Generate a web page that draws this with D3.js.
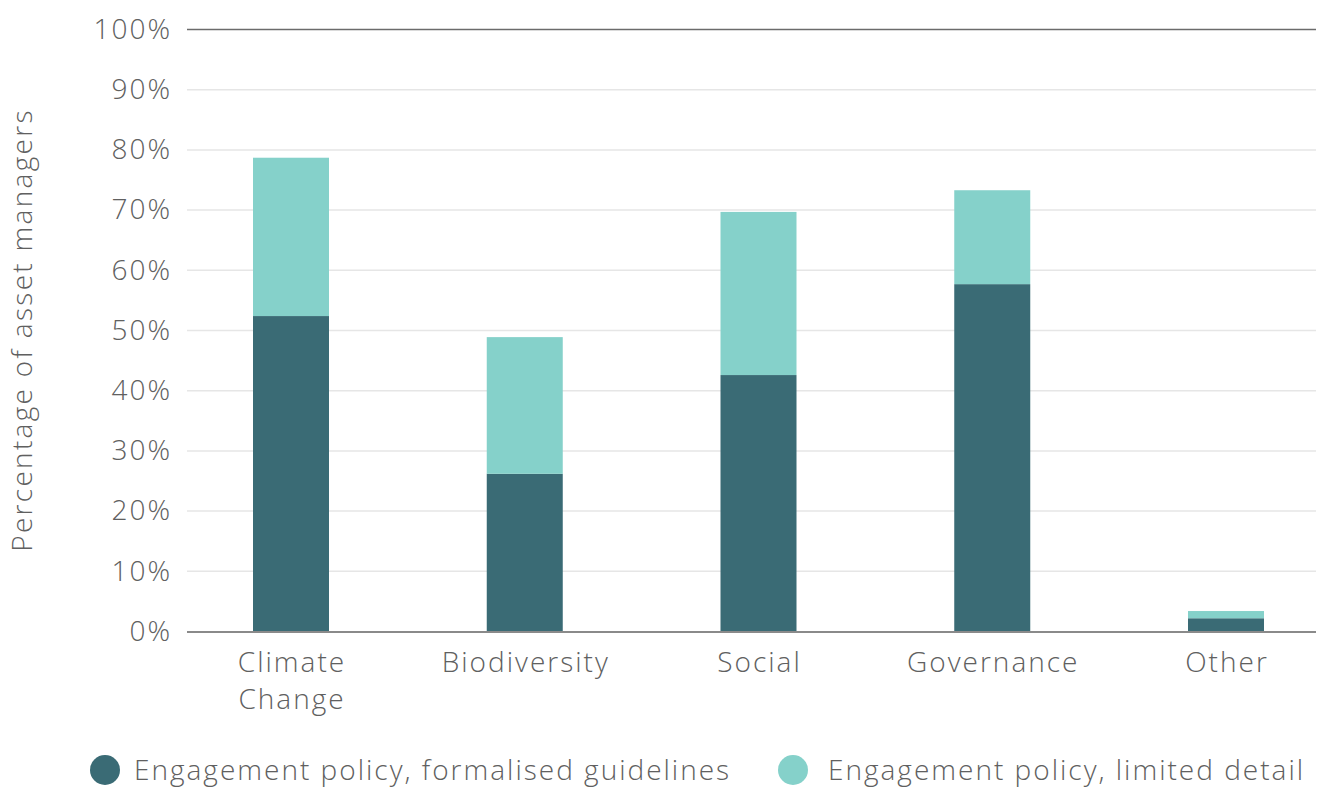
<!DOCTYPE html>
<html><head><meta charset="utf-8">
<script src="https://cdn.jsdelivr.net/npm/d3@7"></script>
<style>
html,body{margin:0;padding:0;background:#fff;}
text{font-family:"Open Sans",Roboto,sans-serif;font-weight:300;fill:#606060;}
</style></head>
<body><svg id="c" width="1318" height="787"></svg>
<script>
(function(){
const categories = ["Climate\nChange","Biodiversity","Social","Governance","Other"];
const formalised = [52.4, 26.2, 42.6, 57.7, 2.2];
const limited = [26.3, 22.7, 27.1, 15.6, 1.2];
const yTicks = [0,10,20,30,40,50,60,70,80,90,100];
const seriesNames = ["Engagement policy, formalised guidelines","Engagement policy, limited detail"];
const colors = ["#3a6b75","#85d1ca"];

const svg = d3.select("#c");
const mLeft = 187, mRight = 1316, mTop = 29.5, mBottom = 631.5;
const y = d3.scaleLinear().domain([0,100]).range([mBottom, mTop]);
const x = d3.scalePoint().domain(categories).range([291, 1226]);
const bw = 76;
const fs = 28, ls = 2;

svg.append("g").selectAll("line").data(yTicks.filter(d=>d>0&&d<100)).join("line")
  .attr("x1",mLeft).attr("x2",mRight).attr("y1",d=>y(d)).attr("y2",d=>y(d))
  .attr("stroke","#e6e6e6").attr("stroke-width",1.5);
svg.append("line").attr("x1",mLeft).attr("x2",mRight).attr("y1",y(100)).attr("y2",y(100))
  .attr("stroke","#6b6b6b").attr("stroke-width",1.3);

svg.append("g").selectAll("text").data(yTicks).join("text")
  .attr("x",172).attr("y",d=>y(d)).attr("dy","0.33em").attr("text-anchor","end")
  .attr("font-size",fs).attr("letter-spacing",ls).text(d=>d+"%");

svg.append("text").attr("transform","translate(32,330) rotate(-90)")
  .attr("text-anchor","middle").attr("font-size",fs).attr("letter-spacing",2.3).text("Percentage of asset managers");

const stack = categories.map((c,i)=>({c, f: formalised[i], l: limited[i]}));
const g = svg.append("g");
g.selectAll("rect.f").data(stack).join("rect").attr("class","f")
  .attr("x",d=>x(d.c)-bw/2).attr("width",bw)
  .attr("y",d=>y(d.f)).attr("height",d=>y(0)-y(d.f)).attr("fill",colors[0]);
g.selectAll("rect.l").data(stack).join("rect").attr("class","l")
  .attr("x",d=>x(d.c)-bw/2).attr("width",bw)
  .attr("y",d=>y(d.f+d.l)).attr("height",d=>y(d.f)-y(d.f+d.l)).attr("fill",colors[1]);

svg.append("line").attr("x1",mLeft).attr("x2",mRight).attr("y1",y(0)+0.5).attr("y2",y(0)+0.5)
  .attr("stroke","#8a8a8a").attr("stroke-width",2);

const xl = svg.append("g").selectAll("text").data(categories).join("text")
  .attr("x",d=>x(d)).attr("y",672).attr("text-anchor","middle").attr("font-size",fs).attr("letter-spacing",ls);
xl.each(function(d){
  const t = d3.select(this);
  d.split("\n").forEach((s,i)=>t.append("tspan").attr("x",x(d)+ls/2).attr("dy",i?37:0).text(s));
});

const legX = [105, 793];
const leg = svg.append("g").selectAll("g").data(seriesNames).join("g")
  .attr("transform",(d,i)=>`translate(${legX[i]},770)`);
leg.append("circle").attr("r",15).attr("fill",(d,i)=>colors[i]);
leg.append("text").attr("x",(d,i)=>i?35:29).attr("dy","0.36em").attr("font-size",fs).attr("letter-spacing",ls).text(d=>d);
})();
</script></body></html>
